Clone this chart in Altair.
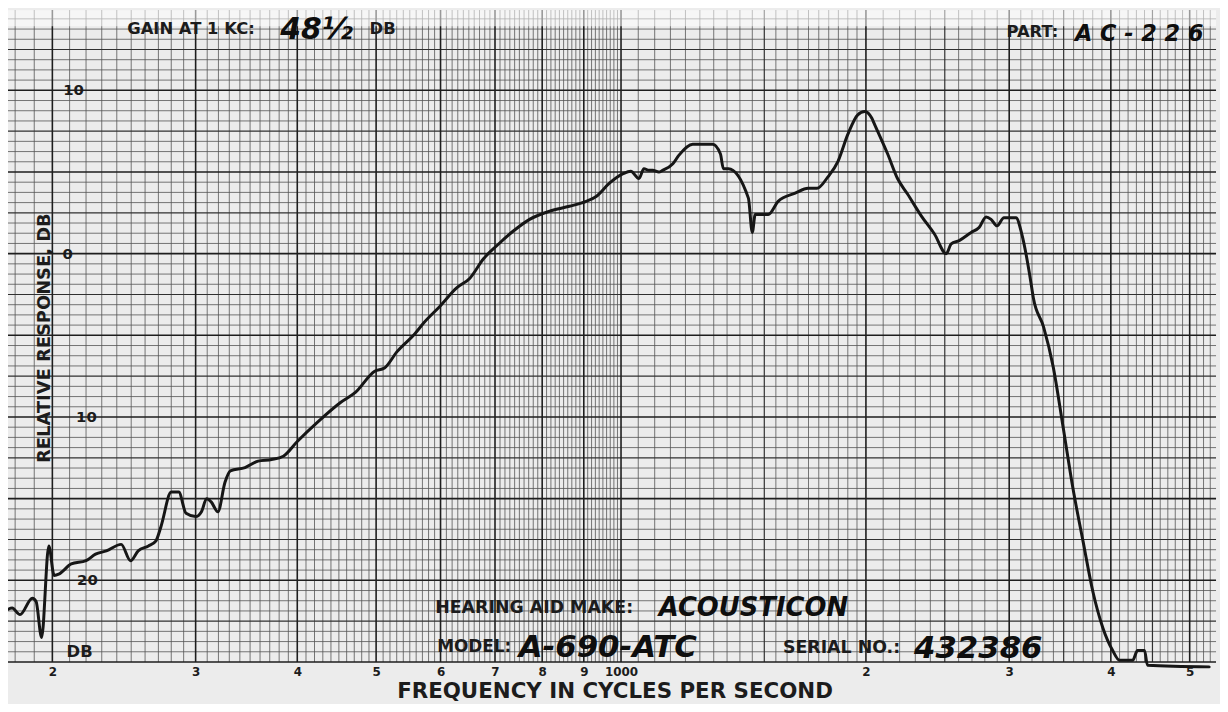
import altair as alt
import pandas as pd

# ---- traced response curve ----
freq_hz = [176, 178.5, 182.5, 189, 191, 194, 198, 201, 204, 211,
           220, 226, 233, 243, 249.5, 255, 262.5, 268, 272, 280,
           286, 292, 300, 305, 309.5, 313.5, 319.5, 326, 331, 345,
           358, 372, 384.5, 400, 424, 452.5, 471.5, 498, 512, 530.5,
           558, 573, 599.5, 628, 652, 678, 704, 738, 772, 817,
           864, 906, 932, 967, 1006, 1028, 1052, 1067, 1082, 1094,
           1113, 1125, 1158, 1177, 1225, 1296, 1325, 1336, 1355, 1434,
           1450, 1462, 1517, 1560, 1637, 1698, 1741, 1796, 1848, 1900,
           1954, 1993, 2033, 2050, 2127, 2187, 2250, 2340, 2428, 2510,
           2546, 2604, 2694, 2755, 2810, 2850, 2898, 2956, 2998, 3058,
           3109, 3184, 3212, 3307, 3397, 3494, 3594, 3697, 3802, 3910,
           4021, 4101, 4254, 4314, 4400, 4437, 5283]
response_db = [-21.8, -21.7, -22.1, -21.1, -21.3, -23.5, -17.9, -19.7, -19.6, -19.0,
               -18.8, -18.4, -18.2, -17.8, -18.8, -18.2, -17.9, -17.6, -16.7, -14.6,
               -14.6, -15.9, -16.1, -15.8, -15.0, -15.2, -15.8, -14.0, -13.3, -13.1,
               -12.7, -12.6, -12.4, -11.5, -10.3, -9.1, -8.5, -7.2, -7.0, -6.0,
               -4.9, -4.2, -3.2, -2.1, -1.5, -0.3, 0.5, 1.4, 2.1, 2.6,
               2.9, 3.2, 3.5, 4.3, 4.9, 5.05, 4.6, 5.2, 5.1, 5.1,
               5.0, 5.1, 5.5, 6.0, 6.7, 6.7, 6.1, 5.2, 5.2, 3.4,
               1.3, 2.4, 2.4, 3.2, 3.7, 4.0, 4.0, 4.7, 5.65, 7.3,
               8.5, 8.7, 8.3, 7.9, 6.1, 4.6, 3.65, 2.3, 1.2, 0.0,
               0.6, 0.8, 1.3, 1.6, 2.25, 2.1, 1.7, 2.2, 2.2, 2.2,
               1.2, -1.5, -2.7, -4.5, -6.9, -10.6, -14.4, -17.6, -20.7, -22.9,
               -24.3, -24.9, -24.9, -24.3, -24.3, -25.2, -25.3]

# ---- axis ticks / grid of the chart paper ----
x_major = [200, 300, 400, 500, 600, 700, 800, 900, 1000, 2000, 3000, 4000, 5000]
x_mid = [1500, 2500, 3500, 4500]
x_minor = [f for f in (list(range(180, 1000, 10))
                       + list(range(1000, 2000, 50)) + list(range(2000, 5400, 100)))
           if f not in x_major and f not in x_mid]
y_lines = [-25 + 0.625 * k for k in range(64)]
y_major = [v for v in y_lines if abs(v / 5 - round(v / 5)) < 1e-9]
y_mid = [v for v in y_lines if abs(v / 2.5 - round(v / 2.5)) < 1e-9 and v not in y_major]
y_minor = [v for v in y_lines if v not in y_major and v not in y_mid]

y_tick_values = [10, 0, -10, -20]
y_tick_text = ["10", "0", "10", "20"]

W, H = 1216, 656
xs = alt.Scale(type="log", domain=[176.4, 5387], nice=False)
ys = alt.Scale(domain=[-25, 14.9], nice=False, zero=False)

FONT = "DejaVu Sans"
INK = "#1c1c1c"

x_axis = alt.Axis(values=x_major, grid=False, ticks=False, domain=False, title="",
                  labelExpr="datum.value == 1000 ? '1000' : (datum.value < 1000 ? format(datum.value/100, 'd') : format(datum.value/1000, 'd'))",
                  labelFont=FONT, labelFontWeight="bold", labelFontSize=12, labelColor=INK,
                  labelPadding=5, labelBaseline="top")
xe = alt.X("f:Q", scale=xs, axis=x_axis)


def vrules(vals, color, width):
    return alt.Chart(pd.DataFrame({"f": vals})).mark_rule(color=color, strokeWidth=width).encode(x=xe)


def hrules(vals, color, width):
    return alt.Chart(pd.DataFrame({"v": vals})).mark_rule(color=color, strokeWidth=width).encode(
        y=alt.Y("v:Q", scale=ys, axis=None))


layers = [
    vrules(x_minor, "#555555", 0.8),
    hrules(y_minor, "#555555", 0.8),
    vrules(x_mid, "#303030", 1.2),
    hrules(y_mid, "#303030", 1.2),
    vrules(x_major, "#1e1e1e", 1.6),
    hrules(y_major, "#1e1e1e", 1.6),
]

# faded strip at top of scan
layers.append(alt.Chart(pd.DataFrame({"a": [0]})).mark_rect(color="#ffffff", opacity=0.55).encode(
    x=alt.value(0), x2=alt.value(W), y=alt.value(0), y2=alt.value(16)))

curve = alt.Chart(pd.DataFrame({"f": freq_hz, "db": response_db})).mark_line(
    color="#161616", strokeWidth=3, interpolate="monotone", strokeJoin="round", strokeCap="round"
).encode(x=xe, y=alt.Y("db:Q", scale=ys, axis=None))
layers.append(curve)

# y labels printed inside the grid
ylab_x = [66, 60, 79, 80]
for v, t, px in zip(y_tick_values, y_tick_text, ylab_x):
    layers.append(alt.Chart(pd.DataFrame({"v": [v]})).mark_text(
        text=t, font=FONT, fontWeight="bold", fontSize=15, color=INK, align="center", baseline="middle"
    ).encode(x=alt.value(px), y=alt.Y("v:Q", scale=ys, axis=None)))


def label(txt, x, y, size=17, hand=False, align="left", angle=0, baseline="middle"):
    kw = dict(text=txt, font=FONT, fontWeight="bold", fontSize=size, color=INK,
              align=align, baseline=baseline)
    if hand:
        kw["fontStyle"] = "italic"
        kw["color"] = "#0e0e0e"
    if angle:
        kw["angle"] = angle
    return alt.Chart(pd.DataFrame({"a": [0]})).mark_text(**kw).encode(x=alt.value(x), y=alt.value(y))


layers += [
    label("GAIN AT 1 KC:", 120, 19, 16.5),
    label("48½", 274, 20, 30, hand=True),
    label("DB", 364, 19, 16.5),
    label("PART:", 1005, 22, 16.5),
    label("A C - 2 2 6", 1074, 24, 22.5, hand=True),
    label("HEARING AID MAKE:", 430, 602, 17.5),
    label("ACOUSTICON", 655, 602, 26, hand=True),
    label("MODEL:", 432, 641, 17),
    label("A-690-ATC", 514, 642, 31, hand=True),
    label("SERIAL NO.:", 780, 642, 17.5),
    label("432386", 912, 643, 31, hand=True),
    label("DB", 59, 646, 16.5),
    label("RELATIVE RESPONSE, DB", 37, 330, 18, align="center", angle=270),
    label("FREQUENCY IN CYCLES PER SECOND", 611, 692, 21.5, align="center", baseline="alphabetic"),
]

chart = alt.layer(*layers).properties(
    width=W, height=H,
    autosize=alt.AutoSizeParams(type="none"),
    padding={"left": 0, "top": 0, "right": 4, "bottom": 40},
    background="#ececec",
).configure_view(stroke=None, fill="#ececec")

chart.save("out.html", embed_options={"renderer": "svg", "actions": False})
